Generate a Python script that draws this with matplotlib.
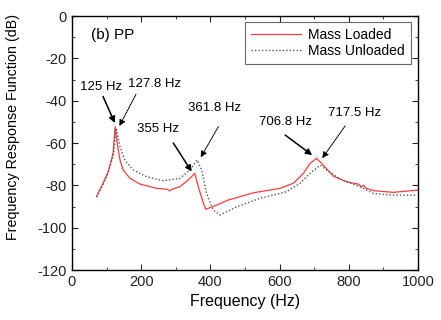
import matplotlib
matplotlib.use("Agg")
import matplotlib.pyplot as plt
from matplotlib.ticker import MultipleLocator

plt.rcParams['font.family'] = ['Liberation Sans', 'DejaVu Sans']
plt.rcParams['axes.unicode_minus'] = False

loaded_f = [71, 90, 105, 119, 125, 131, 139, 148, 168, 197, 245, 275, 283, 288, 312, 336, 355,
            365, 380, 387, 418, 452, 524, 601, 640, 669, 688, 706.8, 726, 755, 794, 830, 836,
            842, 848, 871, 929, 1000]
loaded_db = [-85.3, -79, -73.5, -64.9, -52.3, -60.1, -68, -72.7, -76.7, -79.4, -81.4, -81.8, -82.6,
             -81.9, -80.6, -77.5, -74.3, -80.6, -88.5, -91.3, -89.3, -86.9, -83.5, -81.4, -79,
             -74.3, -69.6, -67.2, -70.4, -75.6, -78.3, -79.5, -80.8, -79.9, -81.2, -82.5, -83.3,
             -82.2]

unloaded_f = [71, 90, 105, 120, 127.8, 139, 153, 177, 216, 264, 312, 341, 361.8, 375, 389, 408,
              428, 476, 543, 620, 659, 688, 717.5, 736, 775, 832, 871, 929, 996]
unloaded_db = [-85.5, -79.5, -74, -65.5, -53, -61.7, -68, -72.7, -75.9, -77.8, -76.7, -72.7, -68,
               -72.7, -83.8, -91.6, -94, -90.1, -86.1, -83, -79, -74.3, -70.5, -72.7, -77.1,
               -80.6, -83.8, -84.6, -84.6]

# annotations: label, text position (f, dB), arrow tail and tip (f, dB), solid or dotted
ann_labels = ["125 Hz", "127.8 Hz", "355 Hz", "361.8 Hz", "706.8 Hz", "717.5 Hz"]
ann_text_pos = [(85, -33.5), (240, -32), (250, -53.4), (413, -43.5), (616, -50), (818, -46)]
ann_tail = [(90, -38), (185, -37), (293, -60), (423, -52.3), (616, -56.2), (789, -52)]
ann_tip = [(124, -50.5), (137, -52), (346, -73.5), (372, -66.8), (694, -65.7), (723, -67.2)]
ann_solid = [True, False, True, False, True, False]

fig = plt.figure(figsize=(4.41, 3.2), dpi=100)
ax = fig.add_axes([0.163, 0.156, 0.785, 0.794])

ax.plot(loaded_f, loaded_db, color='#ff3b3b', lw=0.9, label='Mass Loaded')
ax.plot(unloaded_f, unloaded_db, color='#555555', lw=1.0, ls=(0, (1, 1.5)), label='Mass Unloaded')

for lab, tp, tail, tip, solid in zip(ann_labels, ann_text_pos, ann_tail, ann_tip, ann_solid):
    ax.text(tp[0], tp[1], lab, ha='center', va='center', fontsize=9.5)
    ax.annotate('', xy=tip, xytext=tail,
                arrowprops=dict(arrowstyle='-|>', color='black', lw=1.1 if solid else 0.8,
                                ls='-' if solid else (0, (1, 1)), mutation_scale=9,
                                shrinkA=0, shrinkB=0))

ax.text(117, -9, "(b) PP", ha='center', va='center', fontsize=11)

ax.set_xlim(0, 1000)
ax.set_ylim(-120, 0)
ax.xaxis.set_major_locator(MultipleLocator(200))
ax.xaxis.set_minor_locator(MultipleLocator(100))
ax.yaxis.set_major_locator(MultipleLocator(20))
ax.yaxis.set_minor_locator(MultipleLocator(10))
ax.tick_params(which='both', direction='in', top=True, right=True, labelsize=10.5, colors='#222222')
ax.tick_params(which='major', length=4)
ax.tick_params(which='minor', length=2)
for s in ax.spines.values():
    s.set_linewidth(1.0)

ax.set_xlabel("Frequency (Hz)", fontsize=11.5)
ax.set_ylabel("Frequency Response Function (dB)", fontsize=10.3)
ax.yaxis.set_label_coords(-0.15, 0.565)

leg = ax.legend(loc='upper right', fontsize=10, frameon=True, fancybox=False, edgecolor='#444444',
                handlelength=3.6, handletextpad=0.5, borderpad=0.45, labelspacing=0.15,
                bbox_to_anchor=(0.98, 0.977), borderaxespad=0)
leg.get_frame().set_linewidth(0.8)

fig.savefig("out.png", dpi=100)
